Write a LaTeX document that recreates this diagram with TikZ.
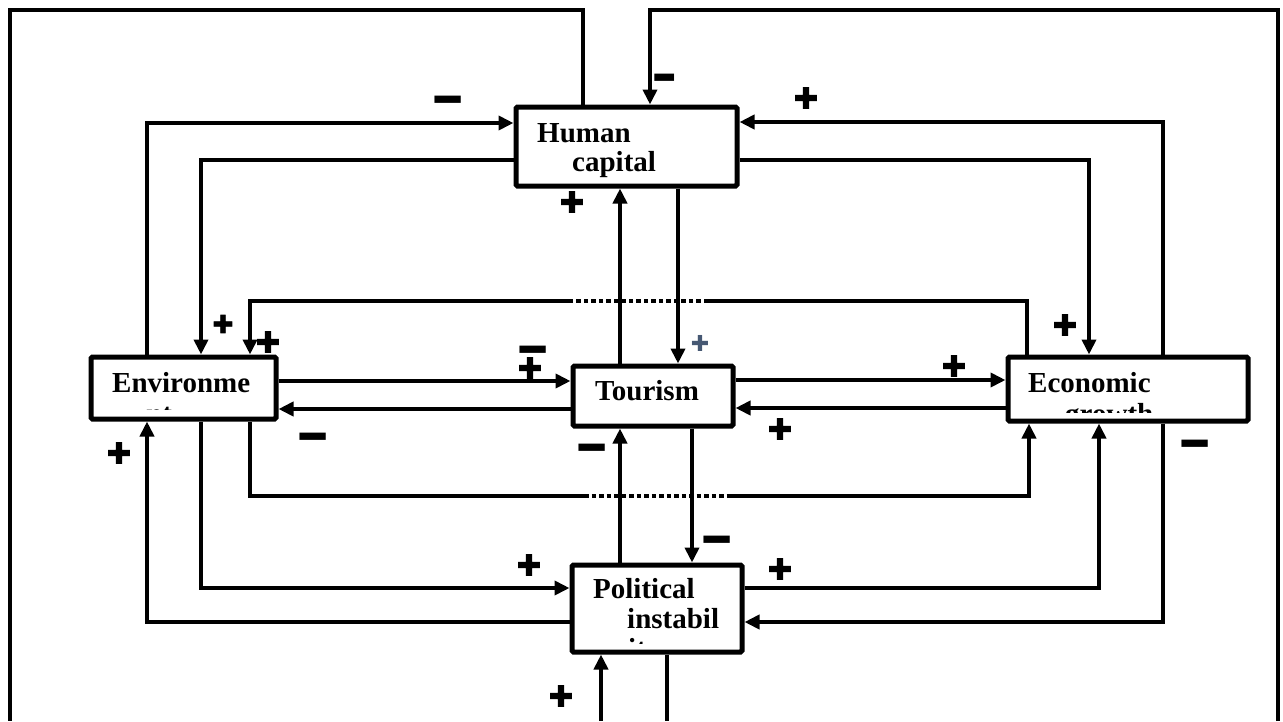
\documentclass[tikz,border=0pt]{standalone}
\usepackage{fontspec}
\setmainfont{Liberation Serif}
\newfontfamily\signfont{DejaVu Sans}[FakeBold=2.5]
\newfontfamily\minusfont{DejaVu Sans}
\usetikzlibrary{arrows.meta}
\definecolor{slate}{RGB}{70,88,115}
\begin{document}
\begin{tikzpicture}[x=1pt,y=-1pt,
  box/.style={draw, line width=5pt, rounded corners=1.5pt, inner sep=0pt},
  txt/.style={font=\bfseries\fontsize{29}{30}\selectfont, inner sep=0pt, anchor=base west},
  conn/.style={line width=4.5pt},
  arr/.style={conn, -{Triangle[length=15pt,width=14pt]}},
  dotseg/.style={line width=4.5pt, dash pattern=on 4.5pt off 3pt},
  plus/.style={font=\signfont\fontsize{29}{29}\selectfont, inner sep=0pt},
  minus/.style={font=\minusfont\bfseries\fontsize{42}{42}\selectfont, inner sep=0pt, anchor=base, yshift=-22.7pt, yscale=1.5}
]
\useasboundingbox (0,0) rectangle (1283,721);
\fill[white] (0,0) rectangle (1283,721);

% boxes
\node[box, minimum width=221pt, minimum height=79pt] (hc) at (626.5,146.5) {};
\node[box, minimum width=185pt, minimum height=62pt] (env) at (183.5,388) {};
\node[box, minimum width=160pt, minimum height=60pt] (tour) at (653,396) {};
\node[box, minimum width=240pt, minimum height=64pt] (eg) at (1128,389) {};
\node[box, minimum width=170pt, minimum height=87pt] (pi) at (657,608.5) {};

% box texts
\node[txt] (hct1) at (537,142) {Human};
\node[txt] (hct2) at (572,171) {capital};
\node[txt] (tourt) at (595,400) {Tourism};
\begin{scope}
  \clip (env.north west) rectangle (env.east |- 0,409);
  \node[txt] (envt1) at (112,392) {Environme};
  \node[txt] (envt2) at (146,423) {nt};
\end{scope}
\begin{scope}
  \clip (eg.north west) rectangle (eg.east |- 0,412);
  \node[txt] (egt1) at (1028,392) {Economic};
  \node[txt] (egt2) at (1065,423) {growth};
\end{scope}
\begin{scope}
  \clip (pi.north west) rectangle (pi.east |- 0,643);
  \node[txt] (pit1) at (593,598) {Political};
  \node[txt] (pit2) at (627,628) {instabil};
  \node[txt] (pit3) at (628,658) {ity};
\end{scope}

% free ends / break points
\coordinate (tl1) at (10,10);
\coordinate (tl2) at (10,721);
\coordinate (tr1) at (1278,721);
\coordinate (tr2) at (1278,10);
\coordinate (bl) at (601,721);
\coordinate (br) at (667,721);
\coordinate (d1a) at (708,301);
\coordinate (d1b) at (573,301);
\coordinate (d2a) at (584,496);
\coordinate (d2b) at (731,496);

% connectors
\draw[arr] (env.north -| 147,0) |- (hc.west |- 0,123);
\draw[arr] (hc.west |- 0,160) -| (env.north -| 201,0);
\draw[arr] (eg.north -| 1163,0) |- (hc.east |- 0,122);
\draw[arr] (hc.east |- 0,160) -| (eg.north -| 1089,0);
\draw[arr] (tour.north -| 620,0) -- (hc.south -| 620,0);
\draw[arr] (hc.south -| 678,0) -- (tour.north -| 678,0);

\draw[conn] (eg.north -| 1027,0) |- (d1a);
\draw[dotseg] (d1a) -- (d1b);
\draw[arr] (d1b) -| (env.north -| 250,0);

\draw[arr] (env.east |- 0,381) -- (tour.west |- 0,381);
\draw[arr] (tour.west |- 0,409) -- (env.east |- 0,409);
\draw[arr] (tour.east |- 0,380) -- (eg.west |- 0,380);
\draw[arr] (eg.west |- 0,408) -- (tour.east |- 0,408);

\draw[conn] (env.south -| 250,0) |- (d2a);
\draw[dotseg] (d2a) -- (d2b);
\draw[arr] (d2b) -| (eg.south -| 1029,0);

\draw[arr] (pi.north -| 620,0) -- (tour.south -| 620,0);
\draw[arr] (tour.south -| 692,0) -- (pi.north -| 692,0);
\draw[arr] (pi.west |- 0,622) -| (env.south -| 147,0);
\draw[arr] (env.south -| 201,0) |- (pi.west |- 0,588);
\draw[arr] (pi.east |- 0,588) -| (eg.south -| 1099,0);
\draw[arr] (eg.south -| 1163,0) |- (pi.east |- 0,622);

\draw[conn] (hc.north -| 583,0) |- (tl1) -- (tl2);
\draw[arr] (tr1) -- (tr2) -| (hc.north -| 650,0);
\draw[arr] (bl) -- (pi.south -| 601,0);
\draw[conn] (pi.south -| 667,0) -- (br);

% signs
\node[minus] (m1) at (448,97) {\smash{−}};
\node[minus, xscale=0.75] (m2) at (665,75) {\smash{−}};
\node[minus] (m3) at (533,347) {\smash{−}};
\node[minus] (m4) at (313,434) {\smash{−}};
\node[minus] (m5) at (592,445) {\smash{−}};
\node[minus] (m6) at (717,537) {\smash{−}};
\node[minus] (m7) at (1195,441) {\smash{−}};

\node[plus] (p1) at (572,202) {✚};
\node[plus] (p2) at (806,98) {✚};
\node[plus, scale=0.85] (p3) at (223,324) {✚};
\node[plus] (p4) at (268,342) {✚};
\node[plus] (p5) at (119,453) {✚};
\node[plus] (p6) at (530,368) {✚};
\node[font=\minusfont\fontsize{22}{22}\selectfont, inner sep=0pt, text=slate] (p7) at (700,343) {✚};
\node[plus] (p8) at (1065,325) {✚};
\node[plus] (p9) at (954,366) {✚};
\node[plus] (p10) at (780,429) {✚};
\node[plus] (p11) at (529,565) {✚};
\node[plus] (p12) at (780,569) {✚};
\node[plus] (p13) at (561,696) {✚};
\end{tikzpicture}
\end{document}
